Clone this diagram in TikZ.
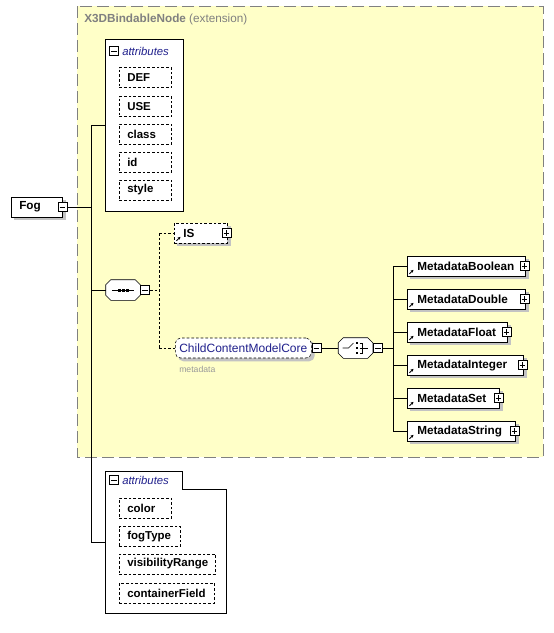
\documentclass[tikz,border=0pt]{standalone}
\usepackage{fontspec}
\setmainfont{Liberation Sans}
\usetikzlibrary{arrows.meta}

\definecolor{groupyellow}{HTML}{FFFFC8}
\definecolor{groupedge}{HTML}{808080}
\definecolor{shadowgray}{HTML}{C3C3C3}
\definecolor{navytext}{HTML}{20208C}
\definecolor{hintgray}{HTML}{9A9A9A}

\pgfdeclarelayer{groupback}
\pgfdeclarelayer{shadowback}
\pgfsetlayers{groupback,shadowback,main}

\tikzset{
  element/.style={draw,fill=white,anchor=west,align=left,minimum height=15pt,inner xsep=6pt,inner ysep=0pt,font=\fontsize{8.8}{10}\selectfont\bfseries},
  attribute/.style={element,dashed,dash pattern=on 2pt off 1.5pt,inner xsep=6pt,text width=27pt,font=\fontsize{8.6}{10}\selectfont\bfseries},
  octagon/.style={minimum width=25.5pt,minimum height=15pt,inner sep=0pt},
  pmbox/.style={draw,fill=white,minimum size=6.75pt,inner sep=0pt,line width=0.6pt},
  collapsebox/.style={pmbox,path picture={\draw[line width=0.6pt] ([xshift=1.2pt]path picture bounding box.west) -- ([xshift=-1.2pt]path picture bounding box.east);}},
  expandbox/.style={pmbox,path picture={\draw[line width=0.6pt] ([xshift=1.2pt]path picture bounding box.west) -- ([xshift=-1.2pt]path picture bounding box.east) ([yshift=1.2pt]path picture bounding box.south) -- ([yshift=-1.2pt]path picture bounding box.north);}},
  grouplabel/.style={anchor=west,inner sep=0pt,text=navytext,font=\fontsize{8.5}{10}\selectfont\itshape}
}
\newcommand\castshadow[2][]{%
  \begin{pgfonlayer}{shadowback}
    \fill[shadowgray,#1] ([shift={(3,3)}]#2.south west) rectangle ([shift={(3,3)}]#2.north east);
  \end{pgfonlayer}}
\newcommand\refmark[1]{\draw[line width=0.6pt,-{Stealth[length=2.2pt,width=2.2pt]}] ([shift={(2.5,-2.5)}]#1.south west) -- ++(4,-4);}
\newcommand\octoutline[1]{%
  ([shift={(5,0)}]#1.north west) -- ([shift={(-5,0)}]#1.north east) -- ([shift={(0,5)}]#1.north east) -- ([shift={(0,-5)}]#1.south east) -- ([shift={(-5,0)}]#1.south east) -- ([shift={(5,0)}]#1.south west) -- ([shift={(0,-5)}]#1.south west) -- ([shift={(0,5)}]#1.north west) -- cycle}
\newcommand\octagonframe[1]{%
  \fill[shadowgray,shift={(3,3)}] \octoutline{#1};
  \filldraw[fill=white] \octoutline{#1};}

\begin{document}
\begin{tikzpicture}[x=0.75pt,y=-0.75pt,line width=0.75pt]
\useasboundingbox (0,0) rectangle (554,633);

% extension group
\begin{pgfonlayer}{groupback}
\draw[fill=groupyellow,draw=groupedge,dash pattern=on 9pt off 3.75pt] (77,6) rectangle (543,457);
\end{pgfonlayer}
\node[anchor=west,inner sep=0pt,text=groupedge,font=\fontsize{8.8}{10}\selectfont] (grouptitle) at (84,19) {\textbf{X3DBindableNode} (extension)};

% root element
\node[element,text width=26.25pt] (fog) at (11,207) {Fog};
\castshadow{fog}
\node[collapsebox] (fogpm) at (fog.east) {};

% inherited attributes
\node[draw,fill=white,anchor=north west,minimum width=58.5pt,minimum height=129pt,inner sep=0pt] (attrs) at (105,39) {};
\node[collapsebox] (attrspm) at (114,51) {};
\node[grouplabel] (attrslabel) at (122,51) {attributes};
\foreach \name/\y in {DEF/77.5,USE/106.5,class/134,id/162,style/190}{
  \node[attribute] (attr-\name) at (119,\y) {\name};
  \castshadow{attr-\name}
}

% spine
\coordinate (spinetop) at (91,125);
\coordinate (spinebot) at (91,542);
\draw (spinetop) -- (spinebot);
\draw (fogpm.east) -- (fogpm.east -| spinetop);
\draw (spinetop) -- (spinetop -| attrs.west);

% sequence
\node[octagon] (seq) at (123,290) {};
\octagonframe{seq}
\node[collapsebox,anchor=west] (seqpm) at (seq.east) {};
\draw (seq.west -| spinetop) -- (seq.west);
\draw ([xshift=-8pt]seq.center) -- ([xshift=8pt]seq.center);
\foreach \dx in {-4,0,4}
  \fill ([shift={(\dx,0)}]seq.center) ++(-1.5,-1.5) rectangle ++(3,3);

\node[element,dashed,dash pattern=on 2pt off 1.5pt,text width=26.25pt,inner xsep=6.75pt] (is) at (174,233) {IS};
\castshadow{is}
\node[expandbox] (ispm) at ([xshift=-0.75pt]is.east) {};
\refmark{is}

\node[element,dashed,dash pattern=on 2pt off 1.5pt,rounded corners=4pt,inner xsep=3pt,text=navytext,font=\fontsize{9}{10}\selectfont] (ccmc) at (175,348) {ChildContentModelCore};
\castshadow[rounded corners=4pt]{ccmc}
\node[collapsebox,anchor=west] (ccmcpm) at (ccmc.east) {};
\node[anchor=west,inner sep=0pt,text=hintgray,font=\fontsize{6.5}{8}\selectfont] (ccmcnote) at (179,369) {metadata};

\coordinate (seqfork) at (159,290);
\draw[dashed,dash pattern=on 2pt off 1.5pt] (seqpm.east) -- (seqfork);
\draw[dashed,dash pattern=on 2pt off 1.5pt] (seqfork |- is.west) -- (seqfork |- ccmc.west);
\draw[dashed,dash pattern=on 2pt off 1.5pt] (seqfork |- is.west) -- (is.west);
\draw[dashed,dash pattern=on 2pt off 1.5pt] (seqfork |- ccmc.west) -- (ccmc.west);

% choice
\node[octagon] (choice) at (355.5,348) {};
\octagonframe{choice}
\node[collapsebox,anchor=west] (choicepm) at (choice.east) {};
\draw (ccmcpm.east) -- (choice.west);
\draw ([shift={(-13,0)}]choice.center) -- ++(6,0) -- ++(5,-5);
\foreach \dy in {-5,0,5}
  \fill ([shift={(1.5,\dy)}]choice.center) ++(-1.3,-1.3) rectangle ++(2.6,2.6);
\draw ([shift={(4,-5)}]choice.center) -- ++(3,0) -- ++(0,10) -- ++(-3,0);
\draw ([shift={(4,0)}]choice.center) -- ++(8,0);

\coordinate (choicefork) at (393,348);
\draw (choicepm.east) -- (choicefork);
\foreach \kind/\tw [count=\i] in {Boolean/73.5pt,Double/73.5pt,Float/60pt,Integer/72pt,Set/54pt,String/66pt}{
  \node[element,inner xsep=7.5pt,text width=\tw] (meta\i) at (407,233+33*\i) {Metadata\kind};
  \castshadow{meta\i}
  \node[expandbox] (meta\i-pm) at ([xshift=-0.75pt]meta\i.east) {};
  \draw (choicefork |- meta\i.west) -- (meta\i.west);
  \refmark{meta\i}
}
\draw (choicefork |- meta1.west) -- (choicefork |- meta6.west);

% own attributes
\draw[fill=white] (105,613) -- (105,471) -- (182,471) -- (182,489) -- (226,489) -- (226,613) -- cycle;
\node[collapsebox] (ownpm) at (114,480) {};
\node[grouplabel] (ownlabel) at (122,480) {attributes};
\coordinate (ownattrs) at (105,542);
\draw (spinebot) -- (ownattrs);
\foreach \name/\y/\tw in {color/508/27pt,fogType/536.5/33.75pt,visibilityRange/564/60pt,containerField/593/59.25pt}{
  \node[attribute,text width=\tw] (own-\name) at (119,\y) {\name};
  \castshadow{own-\name}
}

\end{tikzpicture}
\end{document}
